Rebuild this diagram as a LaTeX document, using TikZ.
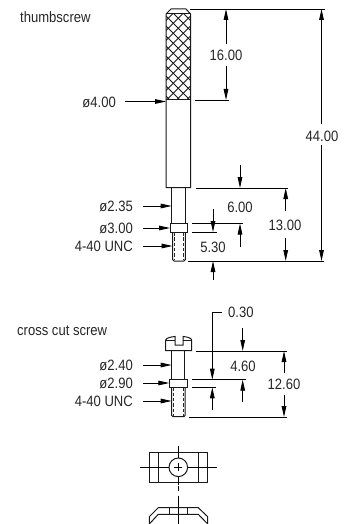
\documentclass[tikz,border=0pt]{standalone}
\usepackage{fontspec}
\setmainfont[FakeStretch=0.87]{Liberation Sans}
\usetikzlibrary{arrows.meta}
\tikzset{
  obj/.style={line width=1pt,black!90},
  thin line/.style={line width=0.85pt,black},
  dim/.style={line width=0.85pt,black,-{Triangle[length=11pt,width=4.6pt]}},
  hid/.style={line width=0.85pt,black!85,dash pattern=on 3.5pt off 1.8pt},
  lab/.style={font=\fontsize{15}{15}\selectfont,inner sep=0pt,text=black!85},
  labr/.style={lab,anchor=east},
  labl/.style={lab,anchor=west}
}
\begin{document}
\begin{tikzpicture}[x=1pt,y=-1pt]
\useasboundingbox (0,0) rectangle (352,524);
% labels
\node[labl] (t1) at (20,17) {thumbscrew};
\node[labl] (t2) at (17,331) {cross cut screw};
\node[labr] (d40) at (116,102) {ø4.00};
\node[labr] (d235) at (133,206) {ø2.35};
\node[labr] (d300) at (133,228) {ø3.00};
\node[labr] (u1) at (133,246) {4-40 UNC};
\node[labr] (d240) at (133,365) {ø2.40};
\node[labr] (d290) at (133,383) {ø2.90};
\node[labr] (u2) at (133,401) {4-40 UNC};
\node[lab] (v16) at (226,55) {16.00};
\node[lab] (v44) at (322,136) {44.00};
\node[lab] (v6) at (240,207) {6.00};
\node[lab] (v13) at (285,225) {13.00};
\node[lab] (v53) at (213,247) {5.30};
\node[labl] (v03) at (228,312) {0.30};
\node[lab] (v46) at (243,366) {4.60};
\node[lab] (v126) at (284,384) {12.60};
% thumbscrew
\begin{scope}
\clip (166,14) rectangle (190.5,100);
\foreach \k in {-12,...,12}{
  \draw[line width=0.8pt,black!90] (166+\k*10,6) -- ++(100,100);
  \draw[line width=0.8pt,black!90] (190.5-\k*10,6) -- ++(-100,100);
}
\end{scope}
\draw[obj] (166,187.7) -- (166,14) -- (171,9) -- (186,9) -- (190.5,14) -- (190.5,187.7) -- cycle;
\draw[obj] (166,14) -- (190.5,14) (166,100) -- (190.5,100);
\draw[obj] (171.7,187.7) -- (171.7,223.5) (185,187.7) -- (185,223.5);
\draw[obj] (170,223.5) rectangle (187,232);
\draw[obj] (172.5,232) -- (172.5,259.5) -- (174,261) -- (184,261) -- (185.3,259.5) -- (185.3,232);
\draw[hid] (174.5,232) -- (174.5,260) (183.3,232) -- (183.3,260);
% thumbscrew dimensions
\draw[thin line] (190,9) -- (325,9);
\draw[thin line] (195,100) -- (229,100);
\draw[thin line] (196,188) -- (288,188);
\draw[thin line] (192,223.5) -- (243,223.5);
\draw[thin line] (192,232) -- (217,232);
\draw[thin line] (188,261) -- (324,261);
\draw[dim] (226,44) -- (226,9);
\draw[dim] (226,66) -- (226,100);
\draw[dim] (321.5,124) -- (321.5,9);
\draw[dim] (321.5,145) -- (321.5,261);
\draw[dim] (240,165) -- (240,188);
\draw[dim] (240,247) -- (240,223.5);
\draw[dim] (285.7,211) -- (285.7,188);
\draw[dim] (285.7,238) -- (285.7,261);
\draw[dim] (213,209) -- (213,232);
\draw[dim] (213,280) -- (213,261);
\draw[dim] (125,101.5) -- (166,101.5);
\draw[dim] (143,206) -- (171.7,206);
\draw[dim] (143,228) -- (170,228);
\draw[dim] (143,246) -- (172.5,246);
% cross cut screw
\draw[obj] (165.7,350.7) -- (165.7,340) .. controls (166,338) and (171,336.8) .. (175,336.5) -- (175,345) -- (183,345) -- (183,336.5) .. controls (187,336.8) and (191.4,338) .. (191.7,340) -- (191.7,350.7) -- cycle;
\draw[obj] (165.7,340) -- (175,340) (183,340) -- (191.7,340);
\draw[obj] (171.7,350.7) -- (171.7,379.3) (184.3,350.7) -- (184.3,379.3);
\draw[obj] (169.3,379.3) rectangle (187.3,387.3);
\draw[obj] (171.7,387.3) -- (171.7,415.5) -- (173,416.7) -- (184,416.7) -- (185,415.5) -- (185,387.3);
\draw[hid] (173.7,387.3) -- (173.7,416) (183,387.3) -- (183,416);
% cross cut dimensions
\draw[thin line] (195.7,351) -- (286.7,351);
\draw[thin line] (192,379.7) -- (245.7,379.7);
\draw[thin line] (192,387.3) -- (215.7,387.3);
\draw[thin line] (189,417) -- (286.7,417);
\draw[dim] (221.7,312) -- (212.3,312) -- (212.3,379.7);
\draw[dim] (212.3,410) -- (212.3,387.3);
\draw[dim] (242.7,328) -- (242.7,351);
\draw[dim] (242.7,402) -- (242.7,379.7);
\draw[dim] (284,373) -- (284,351);
\draw[dim] (284,395) -- (284,417);
\draw[dim] (142.7,365) -- (171.7,365);
\draw[dim] (143,383) -- (169.3,383);
\draw[dim] (143,401) -- (171.7,401);
% plan view
\draw[obj] (149.3,452.7) rectangle (207.7,482.3);
\draw[obj] (158.3,452.7) -- (158.3,482.3) (198.3,452.7) -- (198.3,482.3);
\draw[obj] (178.3,467.3) circle[radius=9.3];
\draw[thin line] (140,467.3) -- (169,467.3) (187.6,467.3) -- (216.7,467.3);
\draw[thin line] (174.3,467.3) -- (182.3,467.3) (178.3,463.3) -- (178.3,471.3);
\draw[thin line] (178.3,446) -- (178.3,458) (178.3,476.6) -- (178.3,485);
\draw[thin line] (178.3,485.5) -- (178.3,490.5);
\draw[thin line] (178.3,495.7) -- (178.3,524);
% section view
\draw[obj] (149.3,524) -- (149.3,516.7) -- (158.3,507.7) -- (198.3,507.7) -- (207.7,516.7) -- (207.7,524) -- (198.3,514.3) -- (158.3,514.3) -- cycle;
\draw[obj] (169.3,507.7) -- (169.3,514.3) (187.3,507.7) -- (187.3,514.3);
\end{tikzpicture}
\end{document}
